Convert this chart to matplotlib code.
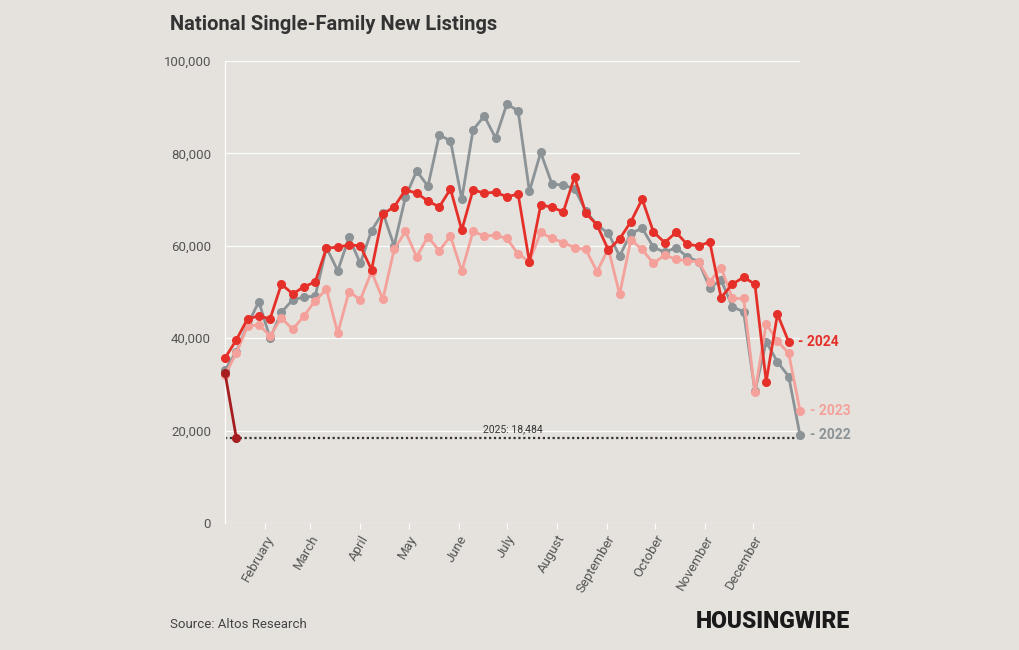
import matplotlib
matplotlib.use("Agg")
import matplotlib.pyplot as plt
import numpy as np

# ---- data (weekly, thousands) ----
start_day = 6          # day-of-year of the first weekly observation
step_days = 7

s2022 = [33.1, 37.1, 42.9, 47.9, 40.0, 45.6, 48.3, 48.9, 49.1, 59.6, 54.6, 61.8, 56.2,
         63.3, 67.2, 60.0, 70.5, 76.2, 72.9, 84.0, 82.7, 70.1, 85.1, 88.1, 83.3, 90.7,
         89.2, 71.8, 80.2, 73.4, 73.1, 72.4, 67.5, 64.5, 62.7, 57.8, 62.7, 63.8, 59.7,
         58.6, 59.6, 57.6, 56.6, 50.9, 52.6, 46.8, 45.7, 28.5, 39.2, 34.9, 31.7, 19.0]
s2023 = [32.0, 36.8, 42.6, 42.9, 40.5, 44.4, 41.9, 44.8, 48.1, 50.6, 41.1, 50.1, 48.3,
         54.4, 48.4, 59.2, 63.1, 57.6, 62.0, 58.9, 62.1, 54.5, 63.1, 62.1, 62.3, 61.6,
         58.2, 56.6, 62.9, 61.6, 60.7, 59.6, 59.2, 54.4, 59.4, 49.5, 61.3, 59.2, 56.2,
         58.0, 57.1, 56.7, 56.6, 52.2, 55.3, 48.6, 48.6, 28.3, 43.1, 39.4, 36.7, 24.3]
s2024 = [35.7, 39.6, 44.2, 44.8, 44.2, 51.7, 49.6, 51.1, 52.2, 59.5, 59.7, 60.2, 60.0,
         54.8, 66.9, 68.4, 72.1, 71.4, 69.7, 68.4, 72.3, 63.4, 72.1, 71.4, 71.6, 70.6,
         71.2, 56.5, 68.8, 68.4, 67.3, 74.9, 67.1, 64.5, 59.1, 61.5, 65.2, 70.1, 63.0,
         60.7, 62.9, 60.3, 60.0, 60.8, 48.8, 51.7, 53.2, 51.7, 30.6, 45.2, 39.2]
s2025 = [32.5, 18.484]
latest_2025 = 18484

month_labels = ["February", "March", "April", "May", "June", "July", "August",
                "September", "October", "November", "December"]
month_start_days = [31, 59, 90, 120, 151, 181, 212, 243, 273, 304, 334]

yticks = [0, 20000, 40000, 60000, 80000, 100000]

title = "National Single-Family New Listings"
source = "Source: Altos Research"
brand = "HOUSINGWIRE"

# ---- style ----
BG = "#e5e2dd"
C22 = "#8b9397"
C23 = "#f5a19b"
C24 = "#e5302a"
C25 = "#a51d1f"
TXT = "#555555"
plt.rcParams['font.family'] = ['Roboto', 'DejaVu Sans']

fig = plt.figure(figsize=(10.2, 6.5), dpi=100, facecolor=BG)
ax = fig.add_axes([225/1020, 1-523/650, 575/1020, (523-61)/650])
ax.set_facecolor(BG)

def xs(n):
    return start_day + step_days*np.arange(n)

def ys(v):
    return np.array(v)*1000

lw = 2.0
ms = 5.5
series = [(s2022, C22, "2022"), (s2023, C23, "2023"), (s2024, C24, "2024")]
for vals, col, lab in series:
    x = xs(len(vals))
    ax.plot(x, ys(vals), color=col, lw=lw, marker="o", ms=ms, mec=col, mfc=col,
            solid_joinstyle="round", zorder=3, clip_on=False)
    ax.annotate("- " + lab, (x[-1], ys(vals)[-1]), xytext=(7, 0),
                textcoords="offset points", va="center", ha="left",
                color=col, fontsize=10, fontweight="bold", annotation_clip=False)

x25 = xs(len(s2025))
ax.plot(x25, ys(s2025), color=C25, lw=lw, marker="o", ms=ms, zorder=4, clip_on=False)

xend = xs(len(s2022))[-1]
ax.plot([xs(1)[0], xend], [latest_2025, latest_2025], color="#333333", lw=1.6,
        ls=(0, (1, 1.2)), zorder=2, clip_on=False)
ax.text((xs(1)[0] + xend)/2, latest_2025 + 800, f"2025: {latest_2025:,}",
        ha="center", va="bottom", fontsize=7.5, color="#333333")

ax.set_xlim(start_day, xend)
ax.set_ylim(0, 100000)
ax.set_yticks(yticks)
ax.set_yticklabels([f"{v:,}" for v in yticks])
ax.grid(axis="y", color="white", lw=0.9, alpha=0.9)
ax.set_axisbelow(True)
for sp in ["top", "right", "bottom"]:
    ax.spines[sp].set_visible(False)
ax.spines["left"].set_color("white")
ax.spines["left"].set_linewidth(0.9)
ax.tick_params(axis="y", length=0, pad=10, labelsize=9.5, labelcolor=TXT)
ax.set_xticks(month_start_days)
ax.set_xticklabels(month_labels, rotation=60, ha="right", rotation_mode="anchor")
ax.tick_params(axis="x", length=4, color="white", labelsize=9.5, labelcolor=TXT, pad=3)

fig.text(170/1020, 1-24/650, title, fontsize=14.5, fontweight="bold", color="#333333",
         va="center", ha="left")
fig.text(170/1020, 1-624/650, source, fontsize=9.5, color="#444444", va="center", ha="left")
fig.text(850/1020, 1-622/650, brand, fontsize=16.5, fontweight="black", color="#1a1a1a",
         va="center", ha="right")

fig.savefig("out.png", dpi=100, facecolor=BG)
